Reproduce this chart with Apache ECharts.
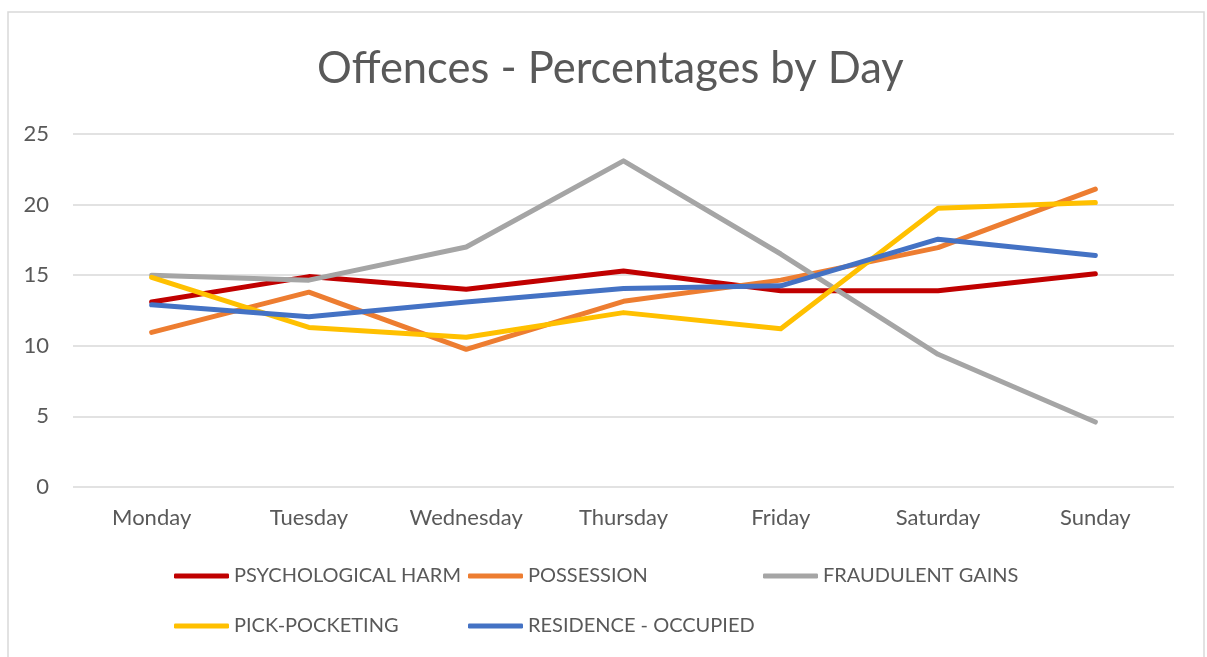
<!DOCTYPE html>
<html>
<head>
<meta charset="utf-8">
<script src="https://cdn.jsdelivr.net/npm/echarts@6/dist/echarts.min.js"></script>
<style>
  html, body { margin: 0; padding: 0; background: #fff; }
  #chart { width: 1207px; height: 657px; }
</style>
</head>
<body>
<div id="chart"></div>
<script>
// data
const days = ['Monday', 'Tuesday', 'Wednesday', 'Thursday', 'Friday', 'Saturday', 'Sunday'];
const psychologicalHarm = [13.1, 14.9, 14.0, 15.3, 13.9, 13.9, 15.1];
const possession = [10.95, 13.8, 9.75, 13.15, 14.65, 16.95, 21.1];
const fraudulentGains = [15.0, 14.65, 17.0, 23.1, 16.5, 9.4, 4.6];
const pickPocketing = [14.85, 11.3, 10.6, 12.35, 11.2, 19.75, 20.15];
const residenceOccupied = [12.9, 12.05, 13.1, 14.05, 14.25, 17.55, 16.4];

const FONT = 'Lato';
const txt = '#595959';

const seriesDefs = [
    {name: 'PSYCHOLOGICAL HARM', data: psychologicalHarm, color: '#C00000', left: 174, top: 566},
    {name: 'POSSESSION', data: possession, color: '#ED7D31', left: 468, top: 566},
    {name: 'FRAUDULENT GAINS', data: fraudulentGains, color: '#A5A5A5', left: 763, top: 566},
    {name: 'PICK-POCKETING', data: pickPocketing, color: '#FFC000', left: 174, top: 616},
    {name: 'RESIDENCE - OCCUPIED', data: residenceOccupied, color: '#4472C4', left: 468, top: 616},
];

let myChart = echarts.init(document.getElementById('chart'));
myChart.setOption({
    animation: false,
    title: {
        text: 'Offences - Percentages by Day',
        left: 312,
        top: 42,
        textStyle: {fontFamily: FONT, fontSize: 43.5, fontWeight: 'normal', color: txt}
    },
    // one legend per item so they sit where Excel put them
    legend: seriesDefs.map(s => ({
        data: [s.name],
        left: s.left,
        top: s.top,
        padding: 0,
        itemWidth: 55,
        itemHeight: 5,
        icon: 'roundRect',
        textStyle: {fontFamily: FONT, fontSize: 20, color: txt}
    })),
    graphic: [{
        type: 'rect',
        shape: {x: 8, y: 12, width: 1196, height: 700},
        style: {fill: 'none', stroke: '#d9d9d9', lineWidth: 1.5},
        silent: true
    }],
    grid: {left: 73, right: 33, top: 134, bottom: 170},
    xAxis: {
        type: 'category',
        data: days,
        axisLine: {show: false},
        axisTick: {show: false},
        axisLabel: {fontFamily: FONT, fontSize: 22, color: txt, margin: 20}
    },
    yAxis: {
        type: 'value',
        min: 0,
        max: 25,
        interval: 5,
        axisLine: {show: false},
        axisTick: {show: false},
        axisLabel: {fontFamily: FONT, fontSize: 22, color: txt, margin: 24},
        splitLine: {lineStyle: {color: '#d9d9d9', width: 1.5}}
    },
    series: seriesDefs.map(s => ({
        name: s.name,
        type: 'line',
        data: s.data,
        symbol: 'none',
        color: s.color,
        lineStyle: {width: 5, color: s.color, cap: 'round', join: 'round'}
    }))
});
</script>
</body>
</html>
